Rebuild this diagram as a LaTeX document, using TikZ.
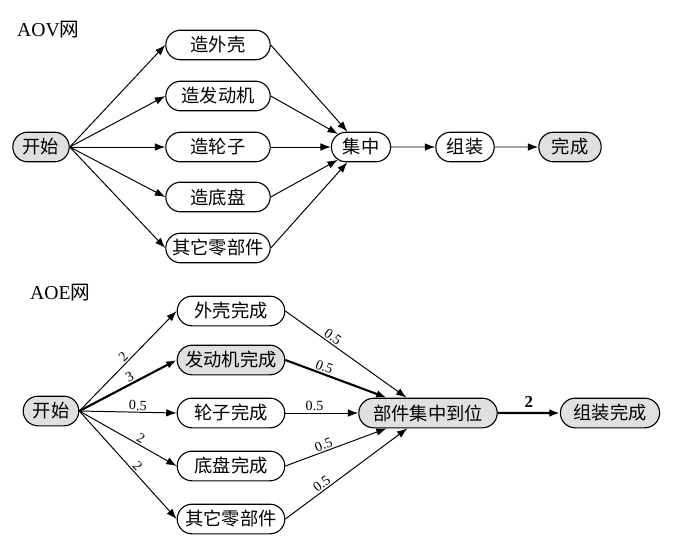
\documentclass[tikz,border=0pt]{standalone}
\usepackage{fontspec}
\setmainfont{Liberation Serif}
\newfontfamily\cjk{Noto Sans CJK SC}
\usetikzlibrary{arrows.meta, positioning, shapes.misc}

\tikzset{
  stage/.style={draw, rounded rectangle, line width=0.8pt, minimum height=0.74cm, inner sep=2pt, font=\cjk\fontsize{13}{15}\selectfont},
  done/.style={stage, fill=black!12},
  wt/.style={font=\fontsize{10}{11}\selectfont, sloped, above, inner sep=1pt},
  crit/.style={line width=1.5pt}
}

\begin{document}
\begin{tikzpicture}[>={Latex[length=2.6mm,width=1.9mm]}, x=0.025cm, y=-0.025cm, line width=0.7pt]
  \useasboundingbox (0,0) rectangle (690,554);

  % AOV net
  \node[anchor=west, font=\fontsize{14}{16}\selectfont] (aov) at (12,30) {AOV{\cjk 网}};
  \node[done, minimum width=1.55cm] (start1) at (41,147) {开始};
  \node[stage, minimum width=2.75cm] (shell) at (218,45) {造外壳};
  \node[stage, minimum width=2.75cm] (engine) at (218,96) {造发动机};
  \node[stage, minimum width=2.75cm] (wheel) at (218,147) {造轮子};
  \node[stage, minimum width=2.75cm] (chassis) at (218,197) {造底盘};
  \node[stage, minimum width=2.75cm] (parts) at (218,248) {其它零部件};
  \node[stage, minimum width=1.62cm] (gather) at (361,147) {集中};
  \node[stage, minimum width=1.6cm] (assemble) at (465,147) {组装};
  \node[done, minimum width=1.7cm] (finish) at (570,147) {完成};

  \foreach \n in {shell, engine, wheel, chassis, parts} {
    \draw[->] (start1.east) -- (\n.west);
    \draw[->] (\n.east) -- (gather);
  }
  \draw[->] (gather) -- (assemble);
  \draw[->] (assemble) -- (finish);

  % AOE net
  \node[anchor=west, font=\fontsize{14}{16}\selectfont] (aoe) at (25,293) {AOE{\cjk 网}};
  \node[done, minimum width=1.53cm] (start2) at (51,411) {开始};
  \node[stage, minimum width=2.83cm] (shelldone) at (231,311) {外壳完成};
  \node[done, minimum width=2.83cm] (enginedone) at (231,360) {发动机完成};
  \node[stage, minimum width=2.83cm] (wheeldone) at (231,413) {轮子完成};
  \node[stage, minimum width=2.83cm] (chassisdone) at (231,466) {底盘完成};
  \node[stage, minimum width=2.83cm] (partsdone) at (231,519) {其它零部件};
  \node[done, minimum width=3.6cm] (ready) at (428,413) {部件集中到位};
  \node[done, minimum width=2.62cm] (built) at (610,413) {组装完成};

  \draw[->] (start2.east) -- node[wt, pos=0.5] {2} (shelldone.west);
  \draw[->, crit] (start2.east) -- node[wt, pos=0.55] {3} (enginedone.west);
  \draw[->] (start2.east) -- node[wt, pos=0.6] {0.5} (wheeldone.west);
  \draw[->] (start2.east) -- node[wt, pos=0.6] {2} (chassisdone.west);
  \draw[->] (start2.east) -- node[wt, pos=0.55] {2} (partsdone.west);

  \draw[->] (shelldone.east) -- node[wt, pos=0.36] {0.5} (ready);
  \draw[->, crit] (enginedone.east) -- node[wt, pos=0.36] {0.5} (ready);
  \draw[->] (wheeldone.east) -- node[wt, pos=0.4] {0.5} (ready);
  \draw[->] (chassisdone.east) -- node[wt, pos=0.4] {0.5} (ready);
  \draw[->] (partsdone.east) -- node[wt, pos=0.33] {0.5} (ready);
  \draw[->, crit] (ready) -- node[above, font=\bfseries\fontsize{12}{14}\selectfont] {2} (built);
\end{tikzpicture}
\end{document}
